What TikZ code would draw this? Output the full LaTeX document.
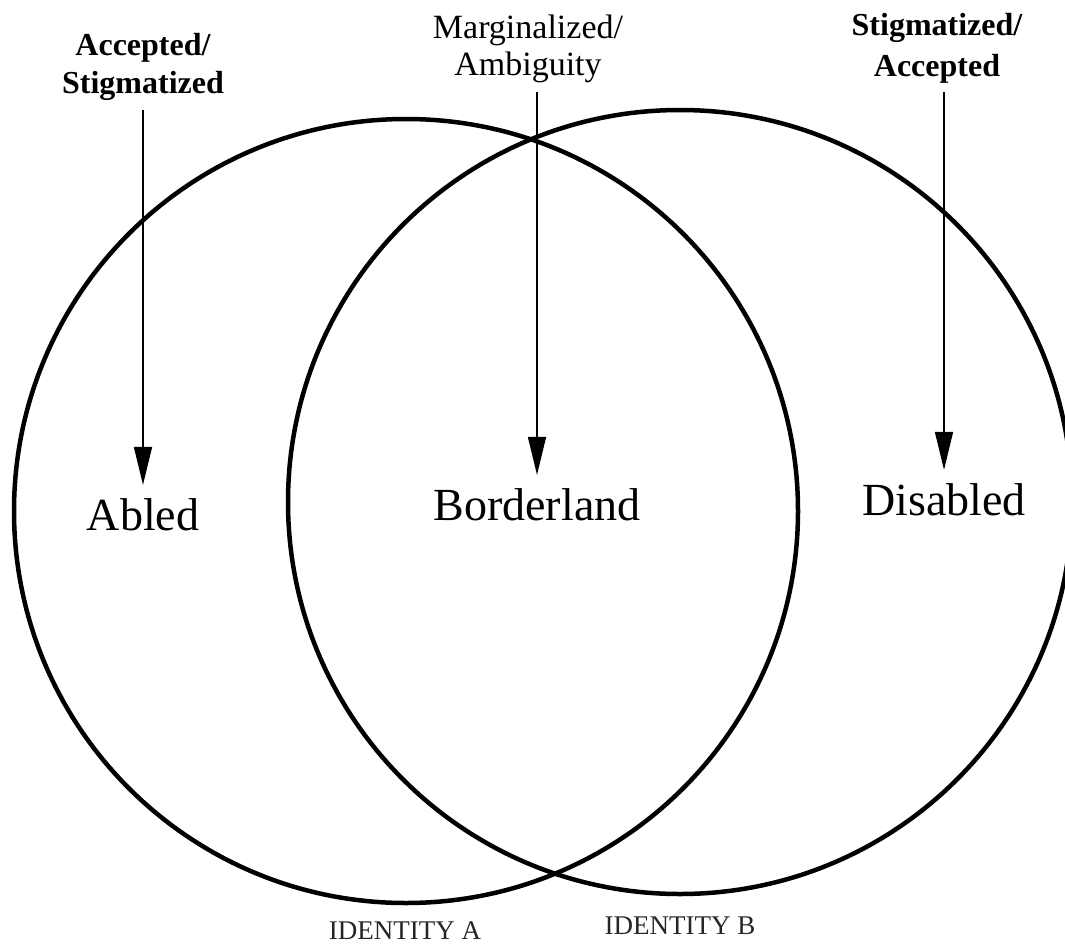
\documentclass[tikz,border=0pt]{standalone}
\usepackage{fontspec}
\setmainfont{Liberation Serif}
\usetikzlibrary{arrows.meta}

\begin{document}
\begin{tikzpicture}[x=1pt,y=-1pt,
		ring/.style={draw,circle,line width=4.5pt,inner sep=0pt,minimum size=784pt},
		region/.style={inner sep=0pt,anchor=base,font=\fontsize{46}{50}\selectfont},
		status/.style={inner sep=0pt,align=center,anchor=north},
		identity/.style={inner sep=0pt,anchor=base,text=black!85,font=\fontsize{27}{30}\selectfont},
		pointer/.style={line width=1.5pt,-{Triangle[length=38pt,width=18pt]},shorten <=9pt,shorten >=13pt}]
		\useasboundingbox (0,0) rectangle (1065,945);
		\clip (0,0) rectangle (1065,945); % right circle runs off the page
		\coordinate (CentreA) at (406,511);
		\coordinate (CentreB) at (680,502);
		\node[ring] (circA) at (CentreA) {};% Identity A
		\node[ring] (circB) at (CentreB) {};% Identity B

		% the three regions
		\node[region] (abled)    at (143,530) {Abled};
		\node[region] (border)   at (537,520) {Borderland};
		\node[region] (disabled) at (944,515) {Disabled};

		% labels on top
		\node[status,font=\bfseries\fontsize{32}{38}\selectfont] (accstig) at (143,33) {Accepted/\\Stigmatized};
		\node[status,font=\fontsize{34}{37}\selectfont] (margamb) at (528,15) {Marginalized/\\Ambiguity};
		\node[status,font=\bfseries\fontsize{32}{41}\selectfont] (stigacc) at (937,13) {Stigmatized/\\Accepted};

		\draw[pointer] (accstig.south -| abled.north) -- (abled.north);
		\draw[pointer] (margamb.south -| border.north) -- (border.north);
		\draw[pointer] (stigacc.south -| disabled.north) -- (disabled.north);

		% names of the circles
		\node[identity] (idA) at (405,939) {IDENTITY A};
		\node[identity] (idB) at (680,934) {IDENTITY B};
	  \end{tikzpicture}
\end{document}
